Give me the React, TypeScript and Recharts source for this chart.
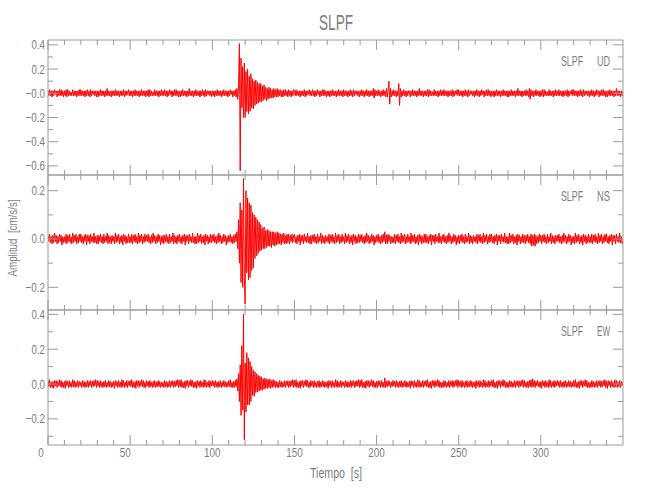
import { Line, LineChart, XAxis, YAxis } from 'recharts'

// sample step of the traces, seconds
const DT = 0.5

// vertical (UD) component, cm/s/s, one row = 10 s
const udValues = [
  .02, -.02, .03, -.02, .02, -.03, .02, -.02, .03, -.01, .02, -.03, .02, -.02, .03, -.02, .03, -.02, .02, -.03,
  .02, -.02, .03, -.03, .03, -.02, .02, -.02, .01, -.02, .03, -.02, .02, -.02, .02, -.03, .02, -.02, .03, -.02,
  .03, -.02, .02, -.02, .02, -.03, .02, -.02, .03, -.02, .02, -.03, .03, -.02, .02, -.01, .02, -.02, .02, -.03,
  .02, -.03, .02, -.02, .03, -.02, .02, -.02, .02, -.03, .02, -.02, .04, -.02, .02, -.02, .02, -.03, .02, -.02,
  .02, -.02, .03, -.02, .02, -.02, .02, -.03, .02, -.02, .02, -.02, .03, -.03, .02, -.02, .02, -.01, .03, -.02,
  .02, -.02, .02, -.03, .02, -.02, .03, -.02, .02, -.02, .02, -.03, .02, -.02, .03, -.02, .02, -.02, .02, -.03,
  .02, -.02, .03, -.03, .03, -.02, .02, -.02, .01, -.02, .03, -.02, .02, -.02, .02, -.03, .02, -.02, .03, -.02,
  .02, -.02, .03, -.02, .02, -.03, .02, -.02, .03, -.01, .02, -.03, .02, -.02, .03, -.02, .03, -.02, .02, -.03,
  .02, -.03, .02, -.02, .03, -.02, .02, -.02, .02, -.03, .02, -.02, .04, -.02, .02, -.02, .02, -.03, .02, -.02,
  .03, -.02, .02, -.02, .02, -.03, .02, -.02, .03, -.02, .02, -.03, .03, -.02, .02, -.01, .02, -.02, .02, -.03,
  .02, -.02, .02, -.03, .02, -.02, .03, -.02, .02, -.02, .02, -.03, .02, -.02, .03, -.02, .02, -.02, .02, -.03,
  .02, -.02, .03, -.01, .02, -.03, .02, -.02, .03, -.03, .04, -.05, .06, .41, -.64, .29, -.12, .22, -.2, .25,
  -.2, .18, -.15, .2, -.17, .14, -.15, .16, -.12, .12, -.13, .1, -.1, .11, -.09, .09, -.08, .08, -.07, .08,
  -.07, .06, -.06, .07, -.05, .05, -.06, .04, -.05, .05, -.04, .04, -.04, .03, -.04, .04, -.03, .03, -.03, .04,
  -.03, .03, -.02, .03, -.03, .02, -.03, .03, -.02, .03, -.02, .02, -.03, .03, -.02, .02, -.03, .02, -.02, .03,
  .02, -.02, .03, -.02, .02, -.02, .02, -.03, .02, -.02, .02, -.02, .03, -.03, .02, -.02, .02, -.01, .03, -.02,
  .02, -.02, .03, -.02, .02, -.03, .02, -.02, .03, -.01, .02, -.03, .02, -.02, .03, -.02, .03, -.02, .02, -.03,
  .02, -.02, .02, -.03, .02, -.02, .03, -.02, .02, -.02, .02, -.03, .02, -.02, .03, -.02, .02, -.02, .02, -.03,
  .03, -.02, .02, -.02, .02, -.03, .02, -.02, .03, -.02, .02, -.03, .03, -.02, .02, -.01, .02, -.02, .02, -.03,
  .02, -.02, .03, -.02, .02, -.03, .02, -.02, .03, -.02, .02, -.03, .02, -.02, .02, -.02, .04, -.04, .03, -.02,
  .02, -.02, .03, -.02, .02, -.03, .02, -.02, .03, -.02, .02, -.03, .04, -.03, .02, .1, -.09, .04, -.03, .02,
  -.02, .03, -.02, .02, -.03, .02, -.02, .08, -.1, .04, -.03, .02, -.02, .03, -.02, .02, -.03, .02, -.02, .02,
  .02, -.03, .02, -.02, .03, -.02, .02, -.02, .02, -.03, .02, -.02, .04, -.02, .02, -.02, .02, -.03, .02, -.02,
  .02, -.02, .03, -.03, .03, -.02, .02, -.02, .01, -.02, .03, -.02, .02, -.02, .02, -.03, .02, -.02, .03, -.02,
  .02, -.02, .03, -.02, .02, -.02, .02, -.03, .02, -.02, .02, -.02, .03, -.03, .02, -.02, .02, -.01, .03, -.02,
  .03, -.02, .02, -.02, .02, -.03, .02, -.02, .03, -.02, .02, -.03, .03, -.02, .02, -.01, .02, -.02, .02, -.03,
  .02, -.02, .03, -.02, .02, -.03, .02, -.02, .03, -.01, .02, -.03, .02, -.02, .03, -.02, .03, -.02, .02, -.03,
  .02, -.02, .02, -.03, .02, -.02, .03, -.02, .02, -.02, .02, -.03, .02, -.02, .03, -.02, .02, -.02, .02, -.03,
  .02, -.03, .02, -.02, .03, -.02, .02, -.02, .02, -.03, .02, -.02, .04, -.02, .02, -.02, .02, -.03, .02, -.02,
  .02, -.02, .03, -.02, .02, -.03, .04, -.05, .03, -.02, .02, -.03, .02, -.02, .03, -.02, .02, -.02, .02, -.03,
  .02, -.02, .03, -.03, .03, -.02, .02, -.02, .01, -.02, .03, -.02, .02, -.02, .02, -.03, .02, -.02, .03, -.02,
  .02, -.02, .03, -.02, .02, -.02, .02, -.03, .02, -.02, .02, -.02, .03, -.03, .02, -.02, .02, -.01, .03, -.02,
  .03, -.02, .02, -.02, .02, -.03, .02, -.02, .03, -.02, .02, -.03, .03, -.02, .02, -.01, .02, -.02, .02, -.03,
  .02, -.02, .03, -.02, .02, -.03, .02, -.02, .03, -.01, .02, -.03, .02, -.02, .03, -.02, .03, -.02, .02, -.03,
  .02, -.03, .02, -.02, .03, -.02, .02, -.02, .02, -.03, .02, -.02, .04, -.02, .02, -.02, .02, -.03, .02, -.02,
  .02,
]

// north-south (NS) component
const nsValues = [
  .015, -.01, .02, -.015, .01, -.02, .015, -.015, .025, -.01, .015, -.02, .01, -.015, .02, -.01, .015, -.025, .01, -.015,
  .01, -.015, .02, -.02, .015, -.01, .02, -.015, .01, -.02, .025, -.015, .015, -.01, .02, -.02, .01, -.015, .02, -.01,
  .02, -.015, .01, -.02, .015, -.01, .02, -.025, .015, -.01, .015, -.02, .02, -.01, .01, -.015, .025, -.015, .01, -.02,
  .015, -.02, .015, -.01, .02, -.015, .01, -.02, .02, -.015, .01, -.01, .025, -.02, .015, -.015, .01, -.02, .015, -.01,
  .01, -.02, .025, -.015, .015, -.01, .02, -.02, .01, -.015, .015, -.025, .02, -.01, .015, -.02, .01, -.015, .02, -.015,
  .01, -.015, .02, -.02, .015, -.01, .02, -.015, .01, -.02, .025, -.015, .015, -.01, .02, -.02, .01, -.015, .02, -.01,
  .015, -.01, .02, -.015, .01, -.02, .015, -.015, .025, -.01, .015, -.02, .01, -.015, .02, -.01, .015, -.025, .01, -.015,
  .015, -.02, .015, -.01, .02, -.015, .01, -.02, .02, -.015, .01, -.01, .025, -.02, .015, -.015, .01, -.02, .015, -.01,
  .02, -.015, .01, -.02, .015, -.01, .02, -.025, .015, -.01, .015, -.02, .02, -.01, .01, -.015, .025, -.015, .01, -.02,
  .01, -.02, .025, -.015, .015, -.01, .02, -.02, .01, -.015, .015, -.025, .02, -.01, .015, -.02, .01, -.015, .02, -.015,
  .015, -.01, .02, -.015, .01, -.02, .015, -.015, .025, -.01, .015, -.02, .01, -.015, .02, -.01, .015, -.025, .01, -.015,
  .015, -.01, .02, -.015, .01, -.02, .015, -.015, .02, -.01, .03, -.04, .08, -.1, .15, -.18, .12, -.2, .25, -.16,
  -.27, .2, -.14, .17, -.17, .15, -.16, .14, -.13, .11, -.12, .1, -.08, .09, -.07, .08, -.06, .07, -.05, .06,
  -.045, .045, -.04, .05, -.04, .035, -.035, .04, -.03, .035, -.03, .03, -.035, .03, -.025, .03, -.03, .025, -.025, .03,
  -.02, .025, -.02, .02, -.025, .02, -.015, .025, -.02, .015, -.02, .02, -.015, .02, -.02, .015, -.01, .02, -.015, .015,
  .02, -.015, .01, -.02, .015, -.01, .02, -.025, .015, -.01, .015, -.02, .02, -.01, .01, -.015, .025, -.015, .01, -.02,
  .015, -.02, .015, -.01, .02, -.015, .01, -.02, .02, -.015, .01, -.01, .025, -.02, .015, -.015, .01, -.02, .015, -.01,
  .01, -.015, .02, -.02, .015, -.01, .02, -.015, .01, -.02, .025, -.015, .015, -.01, .02, -.02, .01, -.015, .02, -.01,
  .01, -.02, .025, -.015, .015, -.01, .02, -.02, .01, -.015, .015, -.025, .02, -.01, .015, -.02, .01, -.015, .02, -.015,
  .015, -.01, .02, -.015, .01, -.02, .015, -.015, .025, -.01, .015, -.02, .01, -.015, .02, -.01, .015, -.025, .01, -.015,
  .015, -.01, .02, -.015, .01, -.02, .015, -.015, .02, -.01, .03, -.02, .015, -.02, .02, -.01, .015, -.02, .01, -.015,
  .01, -.015, .02, -.02, .015, -.01, .02, -.015, .01, -.02, .025, -.015, .015, -.01, .02, -.02, .01, -.015, .02, -.01,
  .01, -.02, .025, -.015, .015, -.01, .02, -.02, .01, -.015, .015, -.025, .02, -.01, .015, -.02, .01, -.015, .02, -.015,
  .02, -.015, .01, -.02, .015, -.01, .02, -.025, .015, -.01, .015, -.02, .02, -.01, .01, -.015, .025, -.015, .01, -.02,
  .015, -.01, .02, -.015, .01, -.02, .015, -.015, .025, -.01, .015, -.02, .01, -.015, .02, -.01, .015, -.025, .01, -.015,
  .015, -.02, .015, -.01, .02, -.015, .01, -.02, .02, -.015, .01, -.01, .025, -.02, .015, -.015, .01, -.02, .015, -.01,
  .01, -.015, .02, -.02, .015, -.01, .02, -.015, .01, -.02, .025, -.015, .015, -.01, .02, -.02, .01, -.015, .02, -.01,
  .02, -.015, .01, -.02, .015, -.01, .02, -.025, .015, -.01, .015, -.02, .02, -.01, .01, -.015, .025, -.015, .01, -.02,
  .01, -.02, .025, -.015, .015, -.01, .02, -.02, .01, -.015, .015, -.025, .02, -.01, .015, -.02, .01, -.015, .02, -.015,
  .015, -.02, .015, -.01, .02, -.015, .01, -.02, .02, -.03, .015, -.025, .02, -.03, .015, -.02, .01, -.015, .02, -.01,
  .015, -.02, .015, -.01, .02, -.015, .01, -.02, .02, -.015, .01, -.01, .025, -.02, .015, -.015, .01, -.02, .015, -.01,
  .015, -.01, .02, -.015, .01, -.02, .015, -.015, .025, -.01, .015, -.02, .01, -.015, .02, -.01, .015, -.025, .01, -.015,
  .01, -.02, .025, -.015, .015, -.01, .02, -.02, .01, -.015, .015, -.025, .02, -.01, .015, -.02, .01, -.015, .02, -.015,
  .01, -.015, .02, -.02, .015, -.01, .02, -.015, .01, -.02, .025, -.015, .015, -.01, .02, -.02, .01, -.015, .02, -.01,
  .02, -.015, .01, -.02, .015, -.01, .02, -.025, .015, -.01, .015, -.02, .02, -.01, .01, -.015, .025, -.015, .01, -.02,
  -.01,
]

// east-west (EW) component
const ewValues = [
  .02, -.015, .025, -.02, .01, -.02, .015, -.025, .02, -.01, .02, -.02, .015, -.01, .025, -.015, .02, -.02, .01, -.02,
  .015, -.025, .02, -.01, .015, -.02, .02, -.015, .01, -.02, .025, -.015, .02, -.02, .01, -.015, .02, -.02, .015, -.01,
  .01, -.02, .02, -.015, .015, -.02, .01, -.015, .02, -.02, .015, -.01, .02, -.02, .015, -.015, .02, -.01, .025, -.02,
  .02, -.01, .015, -.02, .02, -.015, .01, -.02, .015, -.015, .02, -.02, .01, -.015, .02, -.015, .015, -.02, .01, -.015,
  .015, -.025, .02, -.01, .015, -.02, .02, -.015, .01, -.02, .025, -.015, .02, -.02, .01, -.015, .02, -.02, .015, -.01,
  .02, -.015, .025, -.02, .01, -.02, .015, -.025, .02, -.01, .02, -.02, .015, -.01, .025, -.015, .02, -.02, .01, -.02,
  .02, -.01, .015, -.02, .02, -.015, .01, -.02, .015, -.015, .02, -.02, .01, -.015, .02, -.015, .015, -.02, .01, -.015,
  .01, -.02, .02, -.015, .015, -.02, .01, -.015, .02, -.02, .015, -.01, .02, -.02, .015, -.015, .02, -.01, .025, -.02,
  .02, -.015, .025, -.02, .01, -.02, .015, -.025, .02, -.01, .02, -.02, .015, -.01, .025, -.015, .02, -.02, .01, -.02,
  .015, -.025, .02, -.01, .015, -.02, .02, -.015, .01, -.02, .025, -.015, .02, -.02, .01, -.015, .02, -.02, .015, -.01,
  .02, -.01, .015, -.02, .02, -.015, .01, -.02, .015, -.015, .02, -.02, .01, -.015, .02, -.015, .015, -.02, .01, -.015,
  .02, -.015, .025, -.02, .01, -.02, .015, -.02, .02, -.015, .03, -.04, .06, -.1, .11, -.18, .22, -.15, .4, -.32,
  .12, -.16, .18, -.12, .15, -.12, .13, -.1, .1, -.065, .08, -.07, .07, -.05, .06, -.045, .05, -.04, .045, -.035,
  .04, -.035, .03, -.03, .035, -.025, .03, -.025, .025, -.02, .03, -.025, .02, -.02, .025, -.015, .02, -.02, .015, -.02,
  .01, -.02, .02, -.015, .015, -.02, .01, -.015, .02, -.02, .015, -.01, .02, -.02, .015, -.015, .02, -.01, .025, -.02,
  .02, -.015, .025, -.02, .01, -.02, .015, -.025, .02, -.01, .02, -.02, .015, -.01, .025, -.015, .02, -.02, .01, -.02,
  .02, -.01, .015, -.02, .02, -.015, .01, -.02, .015, -.015, .02, -.02, .01, -.015, .02, -.015, .015, -.02, .01, -.015,
  .015, -.025, .02, -.01, .015, -.02, .02, -.015, .01, -.02, .025, -.015, .02, -.02, .01, -.015, .02, -.02, .015, -.01,
  .01, -.02, .02, -.015, .015, -.02, .01, -.015, .02, -.02, .015, -.01, .02, -.02, .015, -.015, .02, -.01, .025, -.02,
  .02, -.015, .025, -.02, .01, -.02, .015, -.025, .02, -.01, .02, -.02, .015, -.01, .025, -.015, .02, -.02, .01, -.02,
  .015, -.02, .02, -.01, .015, -.02, .02, -.015, .01, -.02, .035, -.02, .015, -.015, .02, -.01, .015, -.02, .01, -.015,
  .02, -.01, .015, -.02, .02, -.015, .01, -.02, .015, -.015, .02, -.02, .01, -.015, .02, -.015, .015, -.02, .01, -.015,
  .015, -.025, .02, -.01, .015, -.02, .02, -.015, .01, -.02, .025, -.015, .02, -.02, .01, -.015, .02, -.02, .015, -.01,
  .02, -.015, .025, -.02, .01, -.02, .015, -.025, .02, -.01, .02, -.02, .015, -.01, .025, -.015, .02, -.02, .01, -.02,
  .01, -.02, .02, -.015, .015, -.02, .01, -.015, .02, -.02, .015, -.01, .02, -.02, .015, -.015, .02, -.01, .025, -.02,
  .02, -.01, .015, -.02, .02, -.015, .01, -.02, .015, -.015, .02, -.02, .01, -.015, .02, -.015, .015, -.02, .01, -.015,
  .015, -.025, .02, -.01, .015, -.02, .02, -.015, .01, -.02, .025, -.015, .02, -.02, .01, -.015, .02, -.02, .015, -.01,
  .02, -.015, .025, -.02, .01, -.02, .015, -.025, .02, -.01, .02, -.02, .015, -.01, .025, -.015, .02, -.02, .01, -.02,
  .01, -.02, .02, -.015, .015, -.02, .01, -.015, .02, -.02, .015, -.01, .02, -.02, .015, -.015, .02, -.01, .025, -.02,
  .02, -.015, .01, -.02, .015, -.02, .02, -.015, .025, -.02, .03, -.015, .02, -.02, .015, -.01, .02, -.015, .01, -.02,
  .015, -.025, .02, -.01, .015, -.02, .02, -.015, .01, -.02, .025, -.015, .02, -.02, .01, -.015, .02, -.02, .015, -.01,
  .02, -.01, .015, -.02, .02, -.015, .01, -.02, .015, -.015, .02, -.02, .01, -.015, .02, -.015, .015, -.02, .01, -.015,
  .02, -.015, .025, -.02, .01, -.02, .015, -.025, .02, -.01, .02, -.02, .015, -.01, .025, -.015, .02, -.02, .01, -.02,
  .01, -.02, .02, -.015, .015, -.02, .01, -.015, .02, -.02, .015, -.01, .02, -.02, .015, -.015, .02, -.01, .025, -.02,
  .015, -.025, .02, -.01, .015, -.02, .02, -.015, .01, -.02, .025, -.015, .02, -.02, .01, -.015, .02, -.02, .015, -.01,
  .01,
]

const xMajor = [0, 50, 100, 150, 200, 250, 300]
const xMajorLabels = ['0', '50', '100', '150', '200', '250', '300']
const xMinor = [10, 20, 30, 40, 60, 70, 80, 90, 110, 120, 130, 140, 160, 170, 180, 190,
  210, 220, 230, 240, 260, 270, 280, 290, 310, 320, 330, 340]

const udMajor = [0.4, 0.2, 0, -0.2, -0.4, -0.6]
const udMajorLabels = ['0.4', '0.2', '\u22120.0', '\u22120.2', '\u22120.4', '\u22120.6']
const udMinor = [0.3, 0.1, -0.1, -0.3, -0.5]

const nsMajor = [0.2, 0, -0.2]
const nsMajorLabels = ['0.2', '0.0', '\u22120.2']
const nsMinor = [0.1, -0.1]

const ewMajor = [0.4, 0.2, 0, -0.2]
const ewMajorLabels = ['0.4', '0.2', '0.0', '\u22120.2']
const ewMinor = [0.3, 0.1, -0.1, -0.3]

const AXIS = '#9a9a9a'
const TEXT = '#7c7c7c'
const FONT = "'Liberation Sans', 'DejaVu Sans', sans-serif"

const toRows = (values: number[]) => values.map((v, i) => ({ t: i * DT, v }))

const labelOf = (value: number, major: number[], labels: string[]) => {
  const idx = major.findIndex((m) => Math.abs(m - value) < 1e-6)
  return idx < 0 ? null : labels[idx]
}

// the original uses a narrow stroke font, so squeeze the glyphs a bit
const numWidth = (s: string) =>
  s.split('').reduce((w, c) => w + (c === '.' ? 2.5 : c === '\u2212' ? 6 : 5.5), 0)

const makeYTick = (major: number[], labels: string[], side: 'left' | 'right') => (props: any) => {
  const { x, y, payload } = props
  const label = labelOf(payload.value, major, labels)
  const len = label !== null ? 10 : 5
  const dir = side === 'left' ? 1 : -1
  return (
    <g>
      <line x1={x} x2={x + dir * len} y1={y} y2={y} stroke={AXIS} />
      {side === 'left' && label !== null && (
        <text x={x - 3} y={y} textAnchor="end" dominantBaseline="central" fill={TEXT} fontSize={13} fontFamily={FONT}
          textLength={numWidth(label)} lengthAdjust="spacingAndGlyphs">
          {label}
        </text>
      )}
    </g>
  )
}

const makeXTick = (side: 'top' | 'bottom', showLabels: boolean) => (props: any) => {
  const { x, y, payload } = props
  const label = labelOf(payload.value, xMajor, xMajorLabels)
  const len = label !== null ? 10 : 5
  const dir = side === 'bottom' ? -1 : 1
  // short labels sit a little left of their tick in the original
  const shift = label !== null && label.length < 3 ? -(9 - 2 * label.length) : 0
  return (
    <g>
      <line x1={x} x2={x} y1={y} y2={y + dir * len} stroke={AXIS} />
      {showLabels && label !== null && (
        <text x={x + shift} y={y + 12} textAnchor="middle" fill={TEXT} fontSize={13} fontFamily={FONT}
          textLength={numWidth(label)} lengthAdjust="spacingAndGlyphs">
          {label}
        </text>
      )}
    </g>
  )
}

interface PanelProps {
  values: number[]
  domain: [number, number]
  major: number[]
  labels: string[]
  minor: number[]
  top: number
  bottom: number
  showX: boolean
}

const Panel = ({ values, domain, major, labels, minor, top, bottom, showX }: PanelProps) => {
  const yTicks = [...major, ...minor]
  const xTicks = [...xMajor, ...xMinor]
  return (
    <div style={{ position: 'absolute', left: 0, top: 0 }}>
      <LineChart width={650} height={500} data={toRows(values)} margin={{ top: top - 1, bottom: 500 - bottom - 1, left: 0, right: 26 }}>
        <XAxis xAxisId="b" dataKey="t" type="number" domain={[0, 350]} allowDataOverflow ticks={xTicks} interval={0}
          height={1} tickSize={0} tickMargin={0} tickLine={false} axisLine={{ stroke: AXIS }} tick={makeXTick('bottom', showX)} />
        <XAxis xAxisId="t" orientation="top" dataKey="t" type="number" domain={[0, 350]} allowDataOverflow ticks={xTicks} interval={0}
          height={1} tickSize={0} tickMargin={0} tickLine={false} axisLine={{ stroke: AXIS }} tick={makeXTick('top', false)} />
        <YAxis yAxisId="l" type="number" domain={domain} allowDataOverflow ticks={yTicks} interval={0} width={48}
          tickSize={0} tickMargin={0} tickLine={false} axisLine={{ stroke: AXIS }} tick={makeYTick(major, labels, 'left')} />
        <YAxis yAxisId="r" orientation="right" type="number" domain={domain} allowDataOverflow ticks={yTicks} interval={0} width={1}
          tickSize={0} tickMargin={0} tickLine={false} axisLine={{ stroke: AXIS }} tick={makeYTick(major, labels, 'right')} />
        <Line xAxisId="b" yAxisId="l" dataKey="v" type="linear" stroke="#ff0000" strokeWidth={1} dot={false} isAnimationActive={false} />
      </LineChart>
    </div>
  )
}

const stations = [
  { comp: 'UD', y: 66 },
  { comp: 'NS', y: 201 },
  { comp: 'EW', y: 336 },
]

export default function App() {
  return (
    <div style={{ position: 'absolute', left: 0, top: 0, width: 650, height: 500, background: '#fff' }}>
      <Panel values={udValues} domain={[-0.675, 0.44]} major={udMajor} labels={udMajorLabels} minor={udMinor} top={40} bottom={175} showX={false} />
      <Panel values={nsValues} domain={[-0.294, 0.265]} major={nsMajor} labels={nsMajorLabels} minor={nsMinor} top={175} bottom={310} showX={false} />
      <Panel values={ewValues} domain={[-0.35, 0.425]} major={ewMajor} labels={ewMajorLabels} minor={ewMinor} top={310} bottom={445} showX />
      <svg width={650} height={500} style={{ position: 'absolute', left: 0, top: 0, pointerEvents: 'none' }} fontFamily={FONT} fill={TEXT}>
        <text x={336} y={30} textAnchor="middle" fontSize={22} textLength={34} lengthAdjust="spacingAndGlyphs">SLPF</text>
        <text x={336} y={478} textAnchor="middle" fontSize={14} textLength={52} lengthAdjust="spacingAndGlyphs" style={{ whiteSpace: 'pre' }}>
          Tiempo  [s]
        </text>
        <text x={17} y={238} textAnchor="middle" fontSize={13} transform="rotate(-90 17 238)" textLength={77} lengthAdjust="spacingAndGlyphs"
          style={{ whiteSpace: 'pre' }}>
          Amplitud  [cm/s/s]
        </text>
        {stations.map((s) => (
          <g key={s.comp} fontSize={14}>
            <text x={561} y={s.y} textLength={22} lengthAdjust="spacingAndGlyphs">SLPF</text>
            <text x={597} y={s.y} textLength={13} lengthAdjust="spacingAndGlyphs">{s.comp}</text>
          </g>
        ))}
      </svg>
    </div>
  )
}
